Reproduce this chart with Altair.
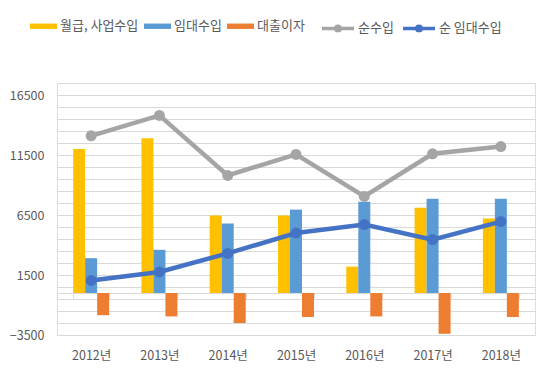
import altair as alt
import pandas as pd

FONT = "Noto Sans CJK KR"

years = ["2012년", "2013년", "2014년", "2015년", "2016년", "2017년", "2018년"]
salary = [12000, 12900, 6450, 6450, 2200, 7100, 6200]
rental = [2900, 3600, 5800, 6950, 7600, 7850, 7850]
interest = [-1850, -1950, -2500, -2000, -1950, -3400, -2000]
net_income = [13100, 14800, 9800, 11550, 8050, 11600, 12200]
net_rental = [1050, 1750, 3300, 5000, 5700, 4450, 5950]

bar_names = ["월급, 사업수입", "임대수입", "대출이자"]
line_names = ["순수입", "순 임대수입"]
bar_colors = ["#FFC000", "#5B9BD5", "#ED7D31"]
line_colors = ["#A5A5A5", "#4472C4"]
y_min, y_max = -3500, 17500
grid_values = list(range(-3500, 17501, 1000))

bar_rows = []
for name, vals in zip(bar_names, [salary, rental, interest]):
    for yr, v in zip(years, vals):
        bar_rows.append({"year": yr, "series": name, "value": v})
bars_df = pd.DataFrame(bar_rows)

line_rows = []
for name, vals in zip(line_names, [net_income, net_rental]):
    for yr, v in zip(years, vals):
        line_rows.append({"year": yr, "series": name, "value": v})
lines_df = pd.DataFrame(line_rows)

W, H = 478, 252
zero_from_bottom = H * (0 - y_min) / (y_max - y_min)

x_scale = alt.Scale(domain=years, paddingInner=0.473, paddingOuter=0.2365)
y_scale = alt.Scale(domain=[y_min, y_max], nice=False, zero=False)

x_axis = alt.Axis(
    title=None, orient="bottom", offset=-zero_from_bottom,
    domainColor="#D9D9D9", domainWidth=1, tickColor="#D9D9D9", tickSize=5,
    tickBand="extent", labelPadding=51, labelFont=FONT, labelFontSize=12.5,
    labelColor="#595959", grid=False, labelAngle=0,
)
y_axis = alt.Axis(
    title=None, values=grid_values, tickCount=len(grid_values) + 5, format="d",
    labelExpr="(datum.value + 3500) % 5000 == 0 ? datum.label : ''",
    labelOverlap=False,
    domain=False, ticks=False, gridColor="#D9D9D9", gridWidth=1,
    labelPadding=13, labelFont=FONT, labelFontSize=12.5, labelColor="#595959",
)

RECT_PATH = "M-1,-0.2L1,-0.2L1,0.2L-1,0.2Z"
LINE_PATH = "M-1,0L1,0M0.14,0A0.14,0.14,0,1,1,-0.14,0A0.14,0.14,0,1,1,0.14,0Z"

bars = alt.Chart(bars_df).mark_bar().encode(
    x=alt.X("year:N", sort=years, scale=x_scale, axis=x_axis),
    xOffset=alt.XOffset("series:N", sort=bar_names,
                        scale=alt.Scale(domain=bar_names, paddingInner=0, paddingOuter=0)),
    y=alt.Y("value:Q", scale=y_scale, axis=y_axis),
    fill=alt.Fill(
        "series:N", scale=alt.Scale(domain=bar_names, range=bar_colors),
        legend=alt.Legend(
            title=None, orient="none", direction="horizontal",
            legendX=-27, legendY=-70.5, symbolType=RECT_PATH, symbolSize=729,
            symbolStrokeWidth=0, labelFont=FONT, labelFontSize=13,
            labelColor="#595959", labelOffset=3, columnPadding=5, padding=0,
        ),
    ),
)

lines = alt.Chart(lines_df).mark_line(strokeWidth=4.5).encode(
    x=alt.X("year:N", sort=years),
    y=alt.Y("value:Q", axis=y_axis),
    stroke=alt.Stroke(
        "series:N", scale=alt.Scale(domain=line_names, range=line_colors),
        legend=alt.Legend(
            title=None, orient="none", direction="horizontal",
            legendX=263, legendY=-73, symbolType=LINE_PATH, symbolSize=1024,
            symbolStrokeWidth=3.5, labelFont=FONT, labelFontSize=13,
            labelColor="#595959", labelOffset=2, columnPadding=2, padding=0,
        ),
    ),
)

points = alt.Chart(lines_df).mark_circle(size=120, opacity=1).encode(
    x=alt.X("year:N", sort=years),
    y=alt.Y("value:Q", axis=y_axis),
    color=alt.Color("series:N", scale=alt.Scale(domain=line_names, range=line_colors),
                    legend=None),
)

chart = alt.layer(bars, lines, points).properties(
    width=W, height=H,
    autosize=alt.AutoSizeParams(type="none"),
    padding={"left": 49, "top": 75, "right": 11, "bottom": 35},
).configure_view(stroke=None).configure(font=FONT)

chart.save("out.html", embed_options={"renderer": "svg", "actions": False})
